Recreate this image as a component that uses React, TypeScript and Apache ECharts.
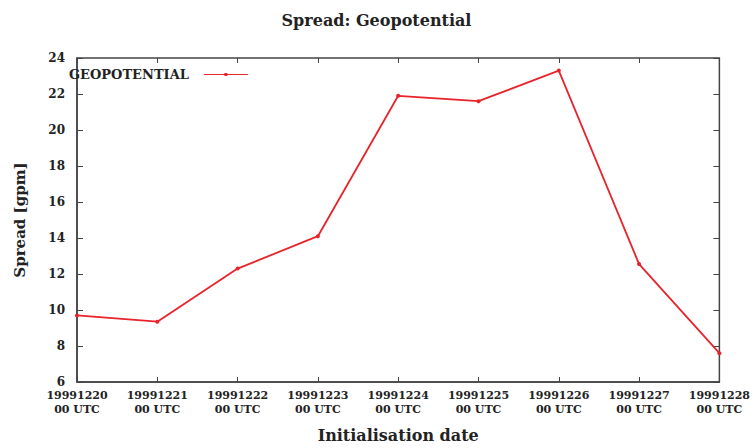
import React, { useEffect, useRef } from "react";
import * as echarts from "echarts";

const categories = ["19991220", "19991221", "19991222", "19991223", "19991224", "19991225", "19991226", "19991227", "19991228"];
const geopotential = [9.7, 9.35, 12.3, 14.1, 21.9, 21.6, 23.3, 12.55, 7.6];
const yTicks = { min: 6, max: 24, interval: 2 };

const FONT = "'DejaVu Serif', 'Liberation Serif', serif";
const RED = "#e8232a";

export default function App() {
  const ref = useRef<HTMLDivElement>(null);
  useEffect(() => {
    const chart = echarts.init(ref.current!, null, { renderer: "svg" });
    chart.setOption({
      animation: false,
      backgroundColor: "#ffffff",
      title: {
        text: "Spread: Geopotential",
        left: "center",
        top: 7,
        textStyle: { fontFamily: FONT, fontWeight: "bold", fontSize: 16, color: "#222" },
      },
      legend: {
        show: true,
        left: 64,
        top: 63,
        align: "right",
        itemWidth: 44,
        itemHeight: 10,
        itemGap: 0,
        data: [{ name: "GEOPOTENTIAL", icon: "path://M0,4.4L44,4.4L44,5.6L0,5.6Z M20.5,3.5L23.5,3.5L23.5,6.5L20.5,6.5Z" }],
        textStyle: { fontFamily: FONT, fontWeight: "bold", fontSize: 13, color: "#222", padding: [0, 10, 0, 0] },
      },
      grid: {
        left: 77,
        right: 27,
        top: 58,
        bottom: 62,
        show: true,
        borderColor: "#444",
        borderWidth: 1.5,
      },
      xAxis: [
        {
          type: "category",
          data: categories,
          boundaryGap: false,
          name: "Initialisation date",
          nameLocation: "middle",
          nameGap: 45,
          nameTextStyle: { fontFamily: FONT, fontWeight: "bold", fontSize: 16, color: "#222" },
          axisLine: { lineStyle: { color: "#444", width: 1.5 } },
          axisTick: { inside: true, length: 5, alignWithLabel: true, lineStyle: { color: "#444" } },
          axisLabel: {
            fontFamily: FONT,
            fontWeight: "bold",
            fontSize: 11,
            color: "#222",
            lineHeight: 14,
            margin: 6,
            formatter: (v: string) => v + "\n00 UTC",
          },
          splitLine: { show: false },
        },
        {
          type: "category",
          data: categories,
          boundaryGap: false,
          position: "top",
          axisLine: { show: false },
          axisTick: { inside: true, length: 5, lineStyle: { color: "#444" } },
          axisLabel: { show: false },
          splitLine: { show: false },
        },
      ],
      yAxis: [
        {
          type: "value",
          min: yTicks.min,
          max: yTicks.max,
          interval: yTicks.interval,
          name: "Spread [gpm]",
          nameLocation: "middle",
          nameGap: 50,
          nameRotate: 90,
          nameTextStyle: { fontFamily: FONT, fontWeight: "bold", fontSize: 15, color: "#222" },
          axisLine: { show: true, lineStyle: { color: "#444", width: 1.5 } },
          axisTick: { show: true, inside: true, length: 6, lineStyle: { color: "#444" } },
          axisLabel: { fontFamily: FONT, fontWeight: "bold", fontSize: 12, lineHeight: 12, color: "#222", margin: 12 },
          splitLine: { show: false },
        },
        {
          type: "value",
          min: yTicks.min,
          max: yTicks.max,
          interval: yTicks.interval,
          position: "right",
          axisLine: { show: false },
          axisTick: { show: true, inside: true, length: 6, lineStyle: { color: "#444" } },
          axisLabel: { show: false },
          splitLine: { show: false },
        },
      ],
      series: [
        {
          name: "GEOPOTENTIAL",
          type: "line",
          data: geopotential,
          color: RED,
          symbol: "circle",
          symbolSize: 4,
          lineStyle: { color: RED, width: 1.8 },
          itemStyle: { color: RED },
        },
      ],
    });
    return () => chart.dispose();
  }, []);
  return <div ref={ref} style={{ position: "absolute", left: 0, top: 0, width: 753, height: 448 }} />;
}
